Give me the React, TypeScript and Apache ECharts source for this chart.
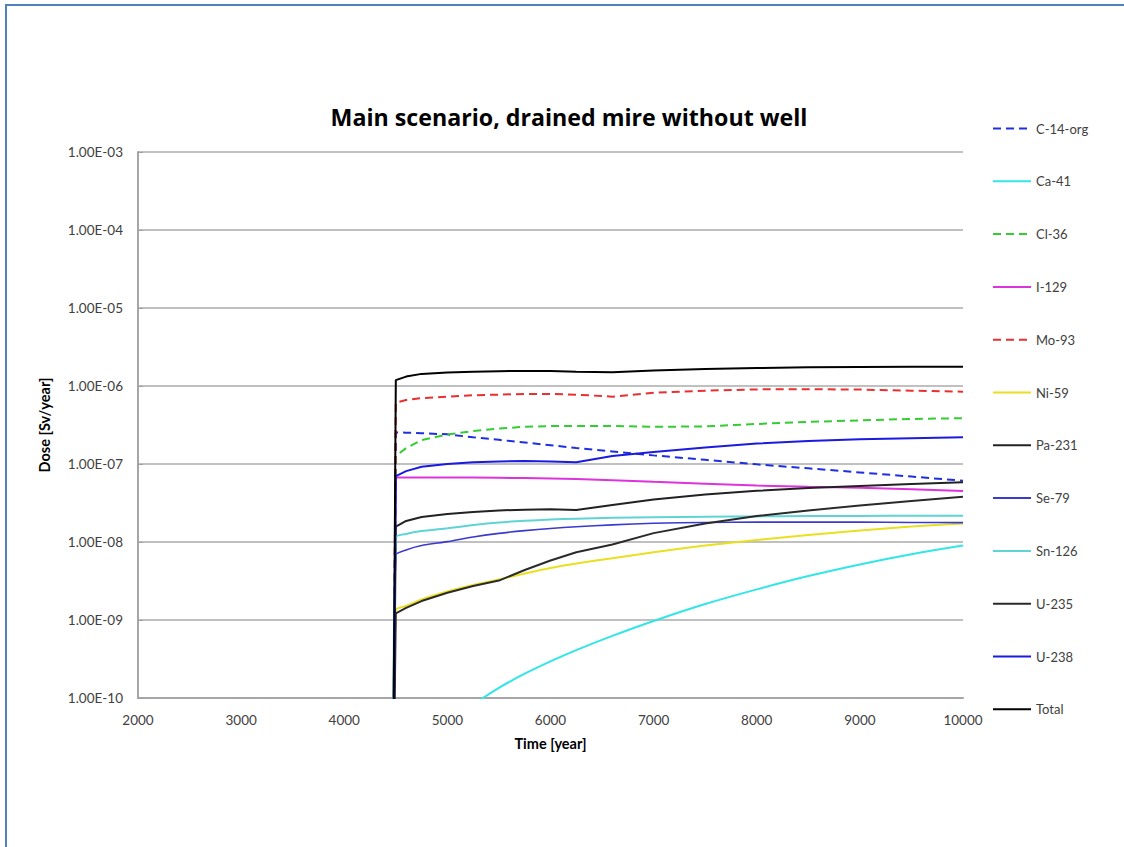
import React, { useEffect, useRef } from "react";
import * as echarts from "echarts";

// Sample times [year]; the first point sits just before the release at 4500 years
const times = [4470, 4500, 4600, 4750, 5000, 5250, 5500, 5750, 6000, 6250, 6600, 7000, 7500, 8000, 8500, 9000, 9500, 10000];

// Dose per nuclide [Sv/year] at each sample time
const c14org = [1e-12, 2.55e-7, 2.52e-7, 2.48e-7, 2.4e-7, 2.2e-7, 2.04e-7, 1.89e-7, 1.74e-7, 1.6e-7, 1.45e-7, 1.29e-7, 1.13e-7, 9.9e-8, 8.8e-8, 7.8e-8, 6.9e-8, 6.1e-8];
const ca41 = [1.3e-11, 1.4e-11, 1.8e-11, 2.6e-11, 4.67e-11, 8.2e-11, 1.35e-10, 2.05e-10, 2.95e-10, 4.11e-10, 6.25e-10, 9.7e-10, 1.6e-9, 2.47e-9, 3.66e-9, 5.16e-9, 6.97e-9, 9.0e-9];
const cl36 = [1e-12, 1.27e-7, 1.6e-7, 2.03e-7, 2.39e-7, 2.65e-7, 2.85e-7, 3.0e-7, 3.07e-7, 3.08e-7, 3.07e-7, 3.0e-7, 3.03e-7, 3.26e-7, 3.46e-7, 3.63e-7, 3.78e-7, 3.87e-7];
const i129 = [1e-12, 6.7e-8, 6.7e-8, 6.7e-8, 6.7e-8, 6.7e-8, 6.65e-8, 6.6e-8, 6.5e-8, 6.4e-8, 6.2e-8, 5.9e-8, 5.6e-8, 5.3e-8, 5.1e-8, 4.95e-8, 4.75e-8, 4.5e-8];
const mo93 = [1e-12, 6.1e-7, 6.6e-7, 7.0e-7, 7.3e-7, 7.6e-7, 7.75e-7, 7.9e-7, 7.9e-7, 7.75e-7, 7.3e-7, 8.2e-7, 8.7e-7, 9.05e-7, 9.1e-7, 9.0e-7, 8.7e-7, 8.45e-7];
const ni59 = [1e-12, 1.34e-9, 1.51e-9, 1.83e-9, 2.32e-9, 2.81e-9, 3.31e-9, 3.95e-9, 4.65e-9, 5.3e-9, 6.2e-9, 7.4e-9, 9.0e-9, 1.06e-8, 1.23e-8, 1.4e-8, 1.58e-8, 1.73e-8];
const pa231 = [1e-12, 1.57e-8, 1.86e-8, 2.09e-8, 2.29e-8, 2.43e-8, 2.54e-8, 2.6e-8, 2.62e-8, 2.57e-8, 2.98e-8, 3.5e-8, 4.06e-8, 4.53e-8, 4.92e-8, 5.22e-8, 5.54e-8, 5.82e-8];
const se79 = [1e-12, 6.8e-9, 7.9e-9, 9.0e-9, 1.01e-8, 1.16e-8, 1.29e-8, 1.4e-8, 1.49e-8, 1.57e-8, 1.66e-8, 1.74e-8, 1.78e-8, 1.8e-8, 1.8e-8, 1.8e-8, 1.78e-8, 1.77e-8];
const sn126 = [1e-12, 1.15e-8, 1.27e-8, 1.38e-8, 1.5e-8, 1.65e-8, 1.78e-8, 1.87e-8, 1.94e-8, 1.99e-8, 2.04e-8, 2.07e-8, 2.1e-8, 2.13e-8, 2.15e-8, 2.16e-8, 2.17e-8, 2.17e-8];
const u235 = [1e-12, 1.22e-9, 1.43e-9, 1.75e-9, 2.24e-9, 2.73e-9, 3.2e-9, 4.38e-9, 5.8e-9, 7.4e-9, 9.3e-9, 1.3e-8, 1.73e-8, 2.15e-8, 2.54e-8, 2.94e-8, 3.36e-8, 3.81e-8];
const u238 = [1e-12, 7.0e-8, 8.1e-8, 9.2e-8, 1.0e-7, 1.05e-7, 1.08e-7, 1.09e-7, 1.08e-7, 1.05e-7, 1.27e-7, 1.43e-7, 1.63e-7, 1.83e-7, 1.97e-7, 2.07e-7, 2.14e-7, 2.2e-7];
const total = [1e-12, 1.19e-6, 1.32e-6, 1.43e-6, 1.49e-6, 1.52e-6, 1.55e-6, 1.56e-6, 1.56e-6, 1.52e-6, 1.5e-6, 1.58e-6, 1.65e-6, 1.7e-6, 1.74e-6, 1.75e-6, 1.76e-6, 1.77e-6];

const seriesNames = ["C-14-org", "Ca-41", "Cl-36", "I-129", "Mo-93", "Ni-59", "Pa-231", "Se-79", "Sn-126", "U-235", "U-238", "Total"];
const seriesValues = [c14org, ca41, cl36, i129, mo93, ni59, pa231, se79, sn126, u235, u238, total];
const seriesColors = ["#1f2fe0", "#33e6e6", "#33cc33", "#dd33dd", "#e83030", "#e8e020", "#222222", "#3a3ad0", "#5ed4d4", "#2a2a2a", "#1a1ae0", "#000000"];
const seriesDashed = [true, false, true, false, true, false, false, false, false, false, false, false];
// Curves without kinks are drawn smoothed
const seriesSmooth = [0, 0.3, 0, 0, 0, 0.2, 0, 0.2, 0.2, 0, 0, 0];

const yTickLabels = ["1.00E-10", "1.00E-09", "1.00E-08", "1.00E-07", "1.00E-06", "1.00E-05", "1.00E-04", "1.00E-03"];

const FONT = "Lato, 'Open Sans', sans-serif";
const TITLE_FONT = "'Open Sans', Lato, sans-serif";

export default function App() {
  const ref = useRef<HTMLDivElement>(null);

  useEffect(() => {
    document.body.style.margin = "0";
    if (!ref.current) return;
    const chart = echarts.init(ref.current, null, { renderer: "svg" });

    const series = seriesNames.map((name, i) => ({
      name,
      type: "line",
      data: times.map((t, k) => [t, seriesValues[i][k]]),
      symbol: "none",
      showSymbol: false,
      clip: true,
      smooth: seriesSmooth[i] || false,
      color: seriesColors[i],
      lineStyle: {
        color: seriesColors[i],
        width: name === "Se-79" ? 1.6 : 2,
        type: seriesDashed[i] ? [8, 5] : "solid",
      },
      emphasis: { disabled: true },
    }));

    chart.setOption({
      animation: false,
      backgroundColor: "#ffffff",
      textStyle: { fontFamily: FONT },
      graphic: [
        {
          type: "rect",
          silent: true,
          z: -10,
          shape: { x: 6, y: 5, width: 1300, height: 1000 },
          style: { fill: "none", stroke: "#4f81bd", lineWidth: 2 },
        },
        {
          type: "text",
          x: 569,
          y: 117,
          style: {
            text: "Main scenario, drained mire without well",
            fontFamily: TITLE_FONT,
            fontSize: 23.2,
            fontWeight: "bold",
            fill: "#000000",
            textAlign: "center",
            textVerticalAlign: "middle",
          },
        },
      ],
      legend: {
        orient: "vertical",
        left: 987,
        top: 117,
        itemWidth: 38,
        itemHeight: 14,
        itemGap: 39.8,
        data: seriesNames,
        itemStyle: { opacity: 0 },
        textStyle: { fontFamily: FONT, fontSize: 13, color: "#404040" },
        selectedMode: false,
      },
      grid: {
        left: 138,
        top: 152,
        width: 825,
        height: 546,
        containLabel: false,
        outerBoundsMode: "none",
      },
      xAxis: {
        type: "value",
        min: 2000,
        max: 10000,
        interval: 1000,
        name: "Time [year]",
        nameLocation: "middle",
        nameGap: 38,
        nameTextStyle: { fontFamily: FONT, fontSize: 14.5, fontWeight: "bold", color: "#000000" },
        axisLine: { show: true, lineStyle: { color: "#a6a6a6", width: 2 } },
        axisTick: { show: false },
        splitLine: { show: false },
        axisLabel: {
          fontFamily: FONT,
          fontSize: 13.5,
          color: "#404040",
          margin: 15,
          formatter: (v: number) => String(v),
        },
      },
      yAxis: {
        type: "log",
        logBase: 10,
        min: 1e-10,
        max: 1e-3,
        name: "Dose [Sv/year]",
        nameLocation: "middle",
        nameRotate: 90,
        nameGap: 86,
        nameTextStyle: { fontFamily: FONT, fontSize: 14.5, fontWeight: "bold", color: "#000000" },
        axisLine: { show: true, lineStyle: { color: "#a6a6a6", width: 2 } },
        axisTick: { show: true, inside: true, length: 5, lineStyle: { color: "#a0a0a0" } },
        minorTick: { show: false },
        splitLine: { show: true, lineStyle: { color: "#c0c0c0", width: 2 } },
        axisLabel: {
          fontFamily: FONT,
          fontSize: 13.5,
          color: "#404040",
          margin: 15,
          formatter: (v: number) => {
            const idx = Math.round(Math.log10(v)) + 10;
            return yTickLabels[idx] ?? "";
          },
        },
      },
      series,
    });

    return () => chart.dispose();
  }, []);

  return <div ref={ref} style={{ width: 1124, height: 847 }} />;
}
